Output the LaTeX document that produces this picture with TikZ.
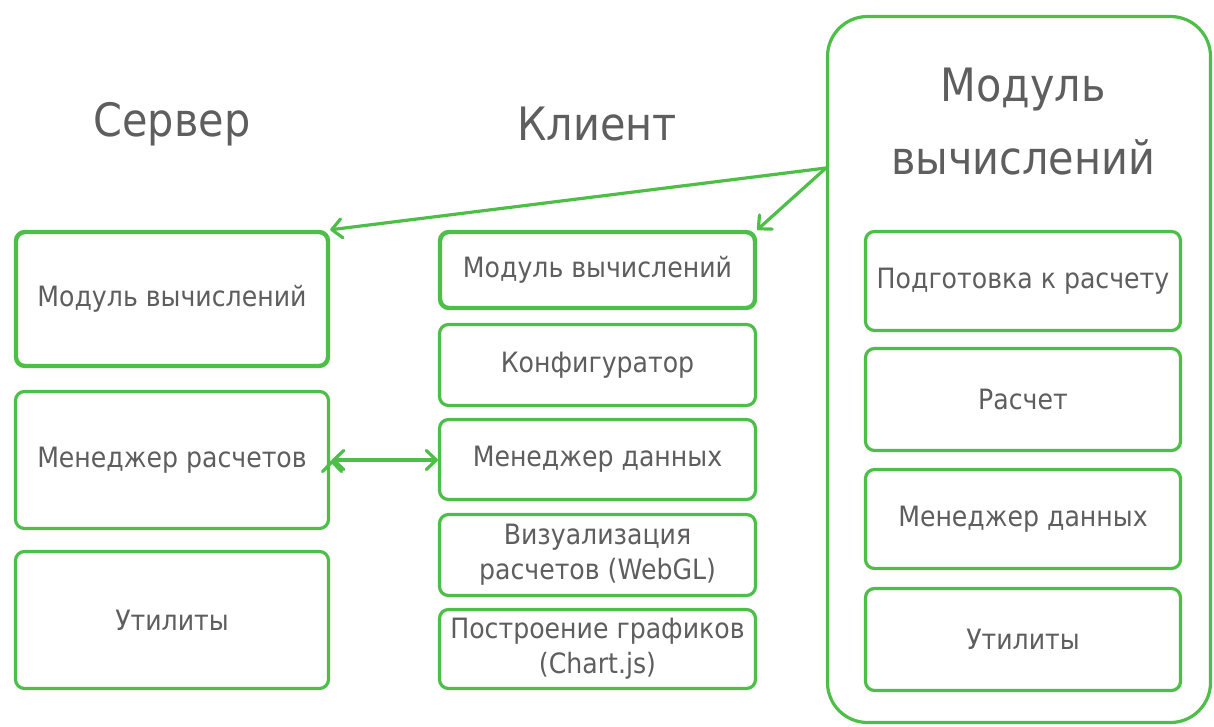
\documentclass[tikz,border=0pt]{standalone}
\usepackage{fontspec}
\setmainfont{DejaVu Sans}[FakeStretch=0.9]
\usepackage{xcolor}
\usetikzlibrary{arrows.meta}
\definecolor{frameGreen}{HTML}{4DBE47}
\definecolor{textGray}{HTML}{5E5E5E}

\begin{document}
\begin{tikzpicture}[x=1pt, y=-1pt,
    barb/.tip={Straight Barb[length=10pt, width=19pt, line width=3.2pt, round]},
    box/.style={draw=frameGreen, line width=3.2pt, rounded corners=9pt, fill=white,
        text=textGray, font=\fontsize{28}{35}\selectfont, align=center, inner sep=0pt},
    boldbox/.style={box, line width=4.4pt},
    title/.style={text=textGray, font=\fontsize{46}{73}\selectfont, align=center},
    link/.style={draw=frameGreen, line width=3.2pt, -barb}]
                \useasboundingbox (0,0) rectangle (1214,726);

                % column titles
                \node[title] (server) at (172,124) {Сервер};
                \node[title] (client) at (597,124) {Клиент};

                % computation module frame
                \node[draw=frameGreen, line width=3.2pt, rounded corners=40pt, minimum width=383pt, minimum height=706pt] (calc) at (1019,369.5) {};
                \node[title] (calctitle) at (1023,122) {Модуль\\вычислений};

                % server
                \node[boldbox, minimum width=312pt, minimum height=134pt] (srvcalc) at (172,299) {Модуль вычислений};
                \node[box, minimum width=313pt, minimum height=137pt] (srvmgr) at (172,460) {Менеджер расчетов};
                \node[box, minimum width=313pt, minimum height=137pt] (srvutil) at (172,620) {Утилиты};

                % client
                \node[boldbox, minimum width=315pt, minimum height=76pt] (clicalc) at (597.5,270) {Модуль вычислений};
                \node[box, minimum width=316pt, minimum height=81pt] (cliconf) at (597.5,365) {Конфигуратор};
                \node[box, minimum width=316pt, minimum height=80pt] (clidata) at (597.5,459.5) {Менеджер данных};
                \node[box, minimum width=316pt, minimum height=81pt] (clivis) at (597.5,555) {Визуализация\\расчетов (WebGL)};
                \node[box, minimum width=316pt, minimum height=79pt] (clichart) at (597.5,649) {Построение графиков\\(Chart.js)};

                % module parts
                \node[box, minimum width=315pt, minimum height=99pt] (prep) at (1023,281) {Подготовка к расчету};
                \node[box, minimum width=315pt, minimum height=102pt] (run) at (1023,399.5) {Расчет};
                \node[box, minimum width=315pt, minimum height=99pt] (moddata) at (1023,519) {Менеджер данных};
                \node[box, minimum width=315pt, minimum height=102pt] (modutil) at (1023,639.5) {Утилиты};

                \coordinate (src) at (826,168);

                \path[link]
                    (src) edge (srvcalc.north east)
                    (src) edge (clicalc.north east)
                    ([xshift=2pt]srvmgr.east) edge[barb-barb] (srvmgr.east -| clidata.west)
                ;
            \end{tikzpicture}
\end{document}
